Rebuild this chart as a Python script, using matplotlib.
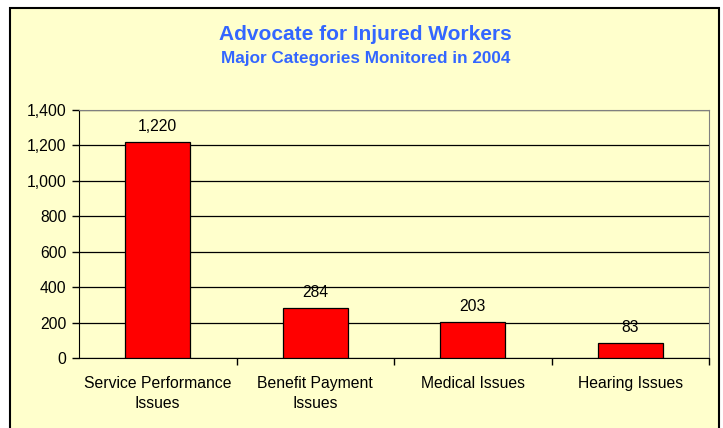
import matplotlib.pyplot as plt
from matplotlib.patches import Rectangle

categories = ['Service Performance\nIssues', 'Benefit Payment\nIssues', 'Medical Issues', 'Hearing Issues']
values = [1220, 284, 203, 83]
yticks = [0, 200, 400, 600, 800, 1000, 1200, 1400]

plt.rcParams['font.family'] = ['Liberation Sans', 'DejaVu Sans']

W, H = 723, 428
fig = plt.figure(figsize=(W / 100, H / 100), dpi=100)
fig.patch.set_facecolor('white')

# chart frame (pale yellow, black border, runs off the bottom)
fig.patches.append(Rectangle((10 / W, -0.01), 709 / W, (H - 8) / H + 0.01,
                             transform=fig.transFigure, facecolor='#FFFFCC',
                             edgecolor='black', linewidth=1.5, zorder=-5))

ax = fig.add_axes([79 / W, 1 - 358 / H, 630 / W, 248 / H])
ax.patch.set_alpha(0)

x = range(len(values))
bars = ax.bar(x, values, width=0.41, color='#FF0000', edgecolor='black', linewidth=0.9, zorder=3)
for i, v in enumerate(values):
    ax.text(i, v + 45, f'{v:,}', ha='center', va='bottom', fontsize=11.3, color='black')

ax.set_xlim(-0.5, len(values) - 0.5)
ax.set_ylim(0, 1400)
ax.set_yticks(yticks)
ax.set_yticklabels([f'{t:,}' for t in yticks], fontsize=11.3)
ax.yaxis.grid(True, color='black', linewidth=0.9, zorder=1)
ax.set_axisbelow(True)

ax.set_xticks([i + 0.5 for i in range(len(values))])
ax.set_xticklabels([])
ax.set_xticks(list(x), minor=True)
ax.set_xticklabels(categories, minor=True, fontsize=11.3, linespacing=1.45)
ax.tick_params(axis='x', which='minor', length=0, pad=13)
ax.tick_params(axis='x', which='major', length=5, direction='out', width=1)
ax.tick_params(axis='y', length=5, direction='out', width=1, pad=4)

ax.spines['left'].set_color('black')
ax.spines['bottom'].set_color('black')
ax.spines['top'].set_color('#808080')
ax.spines['right'].set_color('#808080')

fig.text(365 / W, 1 - 35 / H, 'Advocate for Injured Workers', ha='center', va='center',
         fontsize=15, fontweight='bold', color='#3366FF')
fig.text(366 / W, 1 - 59 / H, 'Major Categories Monitored in 2004', ha='center', va='center',
         fontsize=12.3, fontweight='bold', color='#3366FF')

fig.savefig('out.png', dpi=100)
